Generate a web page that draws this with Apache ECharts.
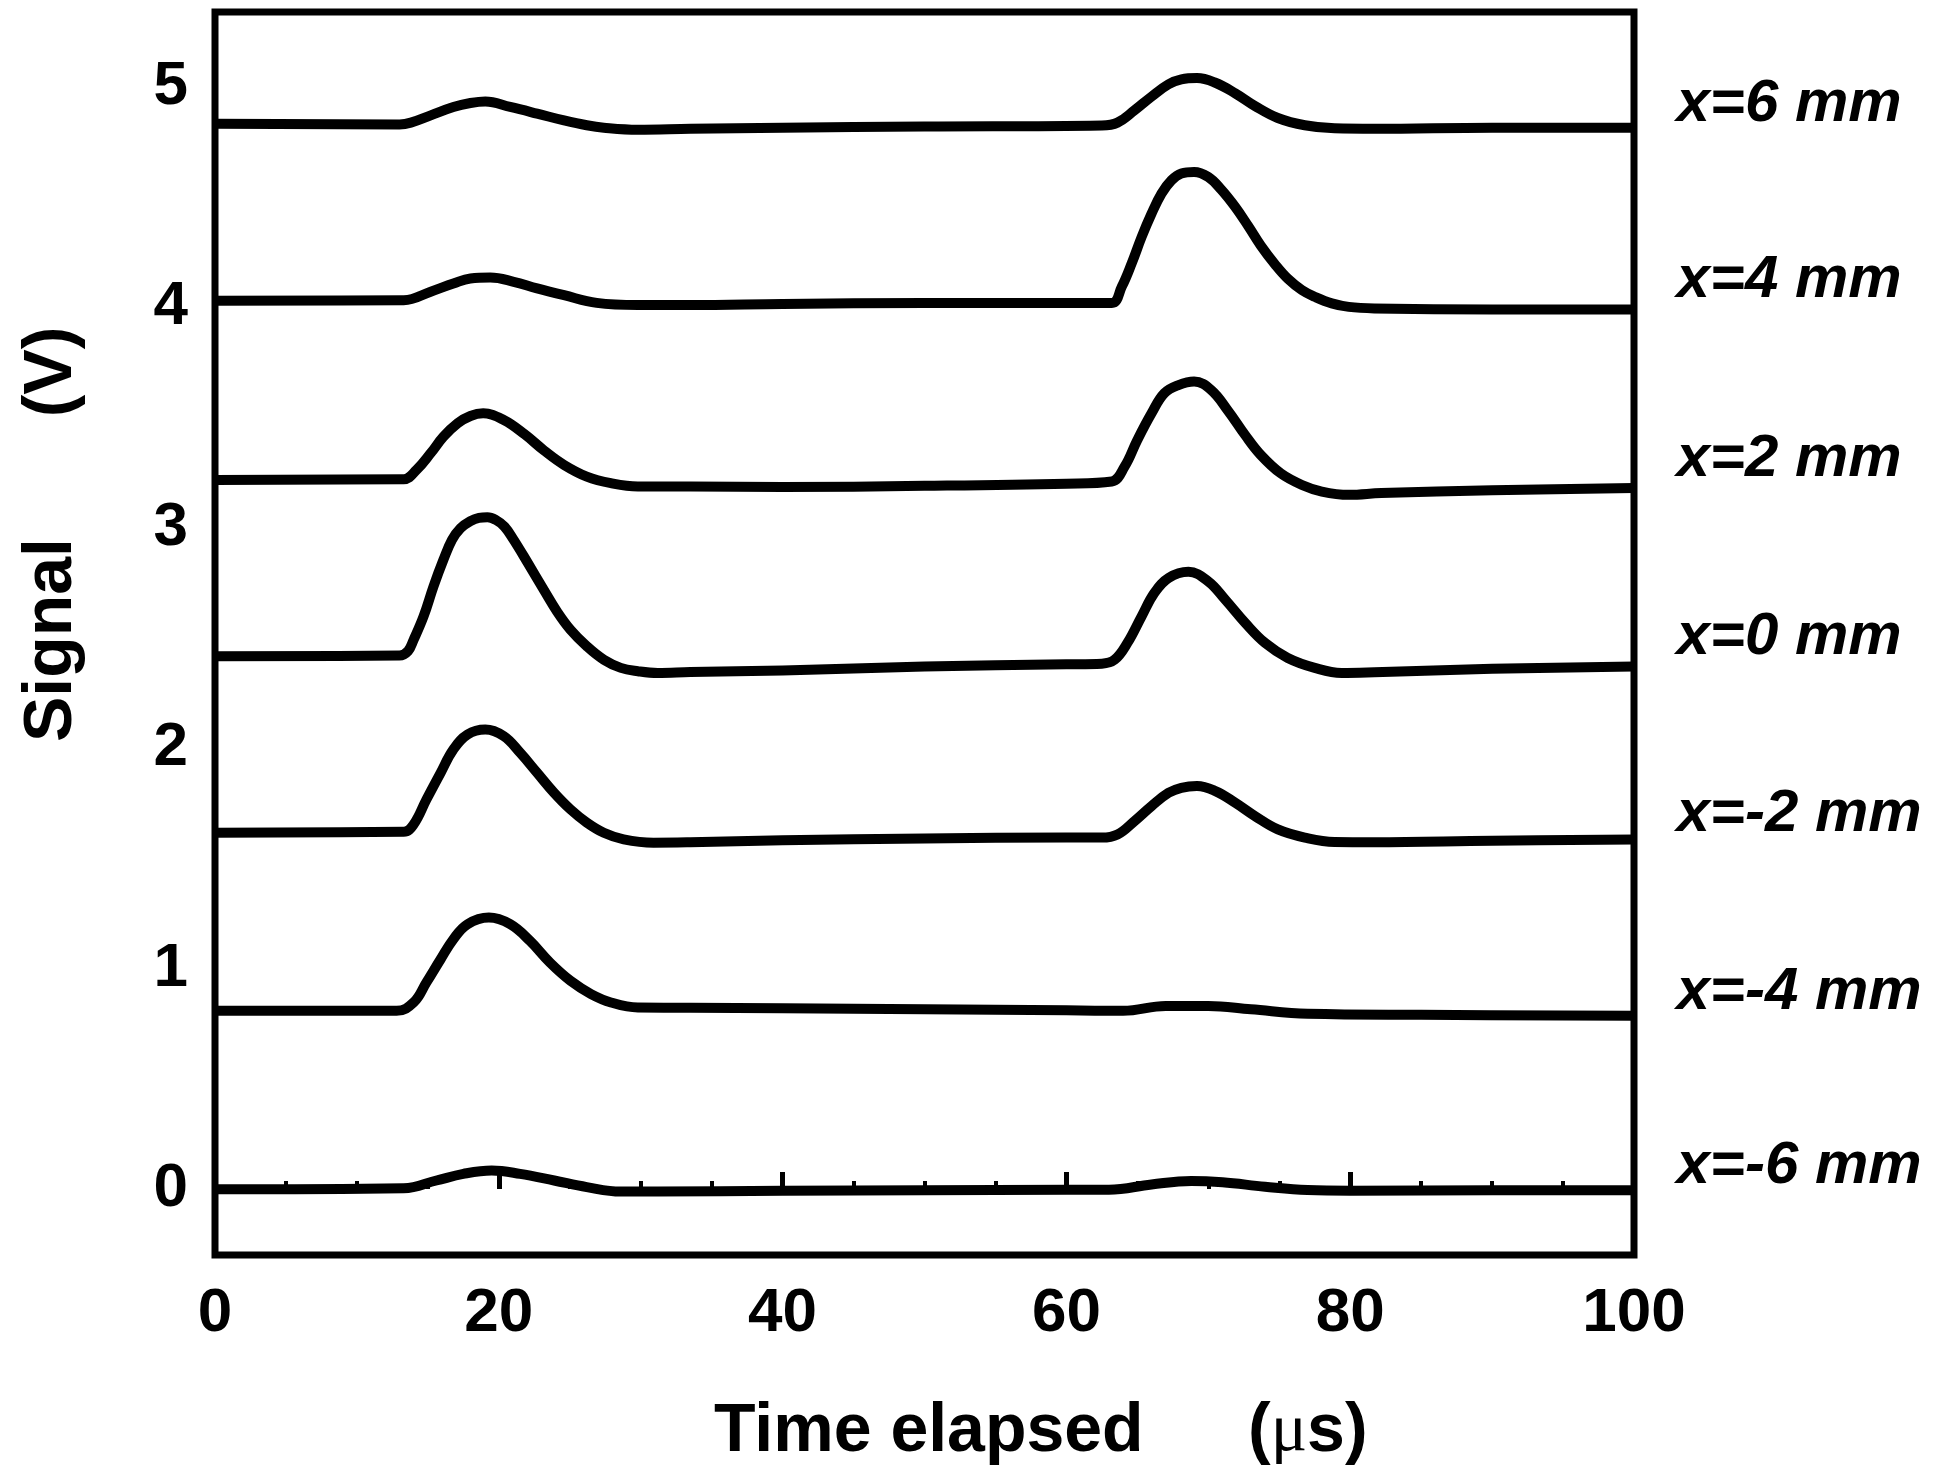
<!DOCTYPE html>
<html>
<head>
<meta charset="utf-8">
<script src="https://cdn.jsdelivr.net/npm/echarts@6/dist/echarts.min.js"></script>
<style>
html,body{margin:0;padding:0;background:#fff;}
#chart{width:1938px;height:1472px;}
</style>
</head>
<body>
<div id="chart"></div>
<script>
// Trace labels and where each label sits (data units, at t = 100)
const traceNames = ['x=-6 mm','x=-4 mm','x=-2 mm','x=0 mm','x=2 mm','x=4 mm','x=6 mm'];
const labelLevels = [0.10, 0.89, 1.70, 2.50, 3.31, 4.12, 4.92];
const yTicks = [0, 1, 2, 3, 4, 5];

// Signal traces: [time (us), signal (V)]
const sigM6 = [[0,-0.002],[13.3,0.003],[15.6,0.038],[17.5,0.068],[19.5,0.083],[21.5,0.068],[23.9,0.038],[26.2,0.008],[28.6,-0.012],[31.2,-0.012],[40,-0.008],[50,-0.006],[60,-0.004],[63,-0.004],[66,0.02],[68.8,0.036],[71,0.03],[74,0.01],[77,-0.005],[80,-0.008],[90,-0.006],[100,-0.006]];
const sigM4 = [[0,0.808],[12.8,0.808],[14.0,0.846],[14.9,0.937],[15.9,1.042],[16.8,1.133],[17.8,1.201],[19.3,1.231],[20.8,1.201],[22.2,1.125],[23.6,1.027],[25.05,0.944],[26.5,0.884],[27.9,0.846],[29.8,0.823],[33.5,0.822],[40,0.82],[50,0.815],[60,0.81],[64,0.808],[67,0.83],[70,0.83],[73,0.815],[77,0.795],[85,0.79],[100,0.786]];
const sigM2 = [[0,1.616],[13.3,1.62],[14.0,1.654],[14.9,1.767],[15.9,1.888],[16.8,1.994],[17.8,2.062],[19.05,2.084],[20.35,2.054],[21.5,1.979],[22.7,1.888],[23.9,1.797],[25.05,1.722],[26.2,1.662],[27.4,1.616],[28.8,1.586],[30.9,1.571],[33.5,1.573],[40,1.582],[50,1.59],[60,1.594],[62.5,1.594],[63.6,1.608],[64.8,1.669],[66.0,1.737],[67.2,1.797],[68.1,1.820],[69.2,1.828],[70.5,1.805],[71.9,1.752],[73.3,1.691],[74.9,1.631],[76.8,1.594],[78.9,1.574],[81.7,1.573],[90,1.58],[100,1.585]];
const sig0 = [[0,2.417],[13.0,2.42],[13.6,2.44],[14.0,2.492],[14.7,2.598],[15.4,2.734],[16.1,2.855],[16.7,2.945],[17.3,2.998],[18.0,3.030],[18.6,3.045],[19.2,3.048],[19.8,3.035],[20.4,3.005],[21.05,2.945],[22.0,2.845],[23.2,2.715],[24.1,2.620],[25.05,2.537],[26.2,2.462],[27.4,2.401],[28.6,2.364],[29.8,2.349],[31.2,2.341],[33.5,2.345],[40,2.352],[50,2.37],[60,2.38],[62.5,2.383],[63.4,2.401],[64.3,2.477],[65.3,2.598],[66.2,2.704],[67.2,2.772],[68.6,2.80],[70.0,2.756],[71.2,2.673],[72.6,2.568],[74.0,2.477],[75.6,2.409],[77.5,2.364],[79.4,2.341],[81.7,2.344],[90,2.36],[100,2.37]];
const sigP2 = [[0,3.217],[13.3,3.22],[14.2,3.262],[15.2,3.338],[16.1,3.413],[17.1,3.474],[18.0,3.507],[18.9,3.519],[20.35,3.489],[21.8,3.425],[23.2,3.350],[24.6,3.285],[26.2,3.232],[27.9,3.202],[29.8,3.187],[33.5,3.187],[40,3.185],[50,3.19],[60,3.2],[63.2,3.21],[64.1,3.277],[65.0,3.398],[66.0,3.519],[66.9,3.610],[67.9,3.647],[69.0,3.663],[70.2,3.625],[71.4,3.530],[72.6,3.420],[73.7,3.330],[75.1,3.247],[76.6,3.194],[78.0,3.164],[79.9,3.149],[82.2,3.157],[90,3.17],[100,3.18]];
const sigP4 = [[0,4.03],[13.3,4.032],[15.2,4.071],[16.8,4.108],[18.0,4.131],[19.4,4.135],[21.05,4.116],[22.7,4.086],[24.6,4.055],[26.9,4.020],[29.8,4.010],[33.5,4.01],[40,4.015],[50,4.02],[60,4.02],[63.2,4.02],[63.9,4.093],[64.6,4.199],[65.3,4.319],[66.0,4.425],[66.7,4.516],[67.4,4.576],[68.1,4.607],[69.0,4.614],[70.0,4.591],[70.9,4.535],[71.9,4.455],[72.8,4.370],[73.7,4.280],[74.7,4.195],[75.6,4.130],[76.6,4.078],[77.5,4.048],[78.7,4.018],[79.9,4.002],[81.7,3.995],[90,3.99],[100,3.99]];
const sigP6 = [[0,4.833],[13.0,4.830],[13.8,4.838],[15.2,4.871],[16.8,4.909],[18.0,4.927],[19.05,4.934],[20.8,4.909],[22.7,4.879],[24.6,4.848],[26.2,4.826],[27.4,4.815],[29.8,4.806],[33.5,4.81],[40,4.815],[50,4.82],[62.5,4.825],[63.6,4.838],[64.8,4.894],[66.0,4.956],[67.2,5.012],[68.1,5.034],[69.2,5.040],[70.5,5.019],[71.9,4.971],[73.3,4.913],[74.9,4.859],[76.8,4.826],[78.9,4.812],[81.7,4.81],[90,4.815],[100,4.815]];

const traces = [sigM6, sigM4, sigM2, sig0, sigP2, sigP4, sigP6];

const FONT = "'Liberation Sans', Arial, Helvetica, sans-serif";
const chart = echarts.init(document.getElementById('chart'), null, {renderer: 'canvas'});

const series = traces.map((d, i) => ({
  type: 'line',
  name: traceNames[i],
  data: d,
  showSymbol: false,
  symbol: 'none',
  smooth: 0.4,
  lineStyle: {color: '#000', width: 10, join: 'round', cap: 'butt'},
  clip: true,
  z: 3,
  markPoint: {
    symbol: 'circle',
    symbolSize: 1,
    itemStyle: {color: 'rgba(0,0,0,0)'},
    label: {
      show: true,
      position: 'right',
      distance: 42,
      formatter: traceNames[i],
      color: '#000',
      fontFamily: FONT,
      fontWeight: 'bold',
      fontStyle: 'italic',
      fontSize: 60
    },
    data: [{coord: [100, labelLevels[i]]}]
  }
}));

chart.setOption({
  animation: false,
  backgroundColor: '#fff',
  grid: {left: 215, right: 304, top: 12, bottom: 217, show: true, borderColor: '#000', borderWidth: 7, backgroundColor: 'transparent'},
  xAxis: {
    type: 'value', min: 0, max: 100, interval: 20,
    axisLine: {show: false},
    splitLine: {show: false},
    axisTick: {show: true, inside: true, length: 17, lineStyle: {color: '#000', width: 5}},
    minorTick: {show: true, splitNumber: 4, length: 8, lineStyle: {color: '#000', width: 4}},
    axisLabel: {margin: 28, color: '#000', fontFamily: FONT, fontWeight: 'bold', fontSize: 62}
  },
  yAxis: {
    type: 'value', min: -0.3, max: 5.34,
    axisLine: {show: false},
    splitLine: {show: false},
    axisTick: {show: false},
    axisLabel: {customValues: yTicks, margin: 27, color: '#000', fontFamily: FONT, fontWeight: 'bold', fontSize: 62}
  },
  graphic: [
    {type: 'text', left: 714, top: 1398, style: {text: 'Time elapsed', font: "bold 68px 'Liberation Sans', Arial, sans-serif", fill: '#000'}},
    {type: 'text', left: 1248, top: 1398, style: {
      text: '{b|(}{m|μ}{b|s)}',
      rich: {
        b: {font: "bold 68px 'Liberation Sans', Arial, sans-serif", fill: '#000'},
        m: {font: "68px 'Liberation Serif', 'Times New Roman', serif", fill: '#000'}
      }
    }},
    {type: 'text', x: 52, y: 640, rotation: Math.PI / 2, style: {text: 'Signal', font: "bold 68px 'Liberation Sans', Arial, sans-serif", fill: '#000', align: 'center', verticalAlign: 'middle'}},
    {type: 'text', x: 52, y: 372, rotation: Math.PI / 2, style: {text: '(V)', font: "bold 68px 'Liberation Sans', Arial, sans-serif", fill: '#000', align: 'center', verticalAlign: 'middle'}}
  ],
  series: series
});
</script>
</body>
</html>
